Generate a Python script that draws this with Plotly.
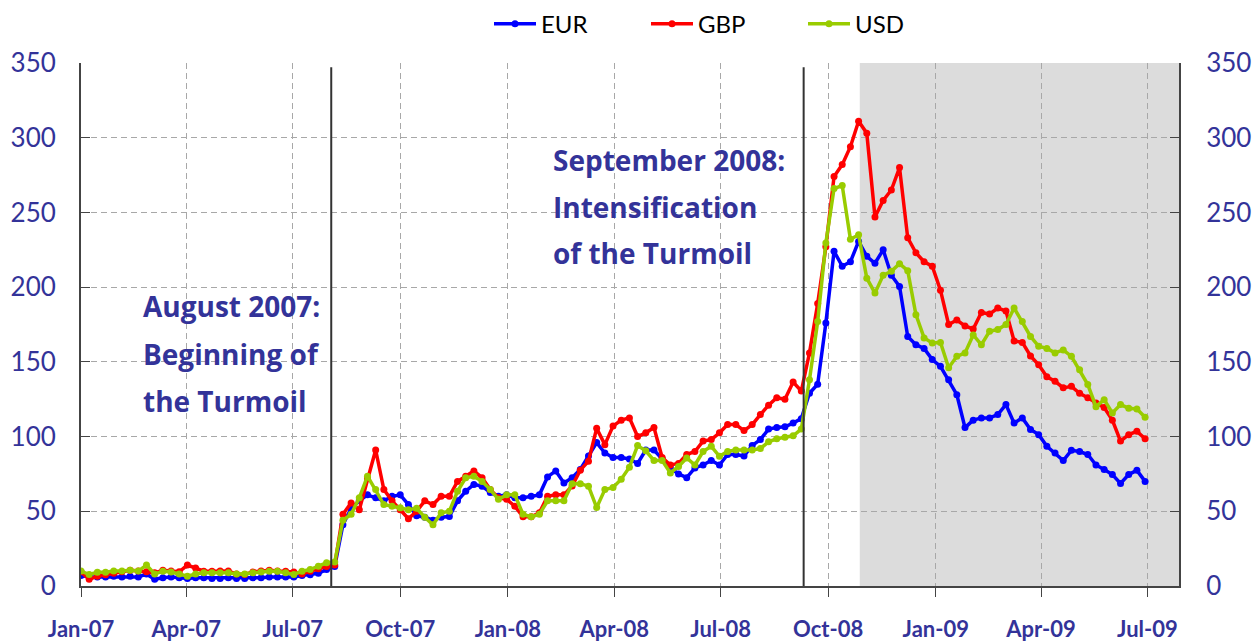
import pandas as pd
import plotly.graph_objects as go

# Weekly observations, Jan-2007 .. end Jun-2009
dates = pd.date_range("2007-01-01", periods=131, freq="7D")

eur = [7, 6, 6, 6, 6.5, 6, 6.5, 6, 8, 4.5,
       5.5, 6, 5.5, 5, 5.5, 5.5, 5, 5, 5.5, 5,
       5, 5.5, 5.5, 6, 6, 6, 6, 7, 7.5, 8.5,
       11, 13,
       41, 52, 57, 61, 59, 57, 60, 61, 54.5, 47,
       46, 44, 46, 46.5, 57, 63.4, 68, 66.8, 62.5, 60,
       61, 59, 59, 60, 61,
       73, 77, 69, 72.4, 78, 87, 96, 89, 86, 86,
       85, 82, 91, 91, 85, 79, 75, 72.5, 79, 81,
       84, 81, 88, 88, 87, 94, 98, 105, 106, 106.5,
       109, 112,
       129, 135, 176, 224, 214, 217, 230.6, 220.6, 216, 225,
       208, 200.5, 167, 161.5, 159, 151.5, 147, 138, 128, 106,
       111, 112.5, 112.5, 114.7, 121.4, 109, 112.5, 104.7, 101.3, 93.5,
       89, 84, 90.8, 90, 88, 81, 78, 74.6, 68.6, 74.6,
       77.4, 70]

gbp = [9.5, 4.5, 6.5, 7.5, 8.5, 9.5, 10.5, 10, 9.5, 8.8,
       10.5, 10, 9.5, 14, 12, 9.9, 9.9, 10, 10, 8,
       7.7, 9.4, 10, 10.6, 10, 9.9, 9.4, 8, 9.9, 11.5,
       13, 14,
       48, 55.6, 51, 72, 91, 64.5, 57, 51, 45, 50,
       57, 54.5, 60, 60, 70, 73.4, 77, 72.4, 64.5, 59,
       58, 53.4, 46.3, 46.3, 49,
       60, 61, 61, 67, 77.5, 83.5, 105.5, 94.6, 107, 111,
       112.5, 100, 102.5, 106, 86, 81, 82, 88, 90, 97,
       98, 102.5, 108, 108, 104, 108, 114.7, 121, 126, 125,
       136.5, 130.5,
       156, 189, 227, 274, 282, 294, 311, 303, 247, 258,
       265, 280, 233, 223, 217, 214, 198, 175, 178, 174,
       172, 183, 182, 186, 184, 164, 163, 154, 148, 140,
       137, 132.6, 133.6, 129, 126, 122.5, 119.4, 111, 97, 101.3,
       103.5, 98.5]

usd = [10, 7.7, 9.2, 9.2, 10, 10, 10.6, 10, 14, 8,
       9.9, 9.4, 8, 6.6, 8, 8.8, 8.8, 8.8, 8.8, 8,
       8, 8.8, 9.4, 9.9, 9.9, 8.8, 7.7, 9.9, 11, 13.3,
       15.5, 16,
       44, 48, 59, 73.5, 64.5, 54.5, 53.4, 52.3, 51, 52,
       46, 41, 49, 50, 63.4, 72.4, 73.4, 70, 64.5, 58,
       61, 61, 48, 46.3, 48,
       57, 57, 57, 68.5, 68.5, 66.8, 52.5, 64.5, 66, 71.5,
       79.5, 94, 90.5, 84, 84, 75.7, 80, 85.7, 81, 90,
       93.5, 86.8, 90, 91, 91, 91, 92, 96.5, 98.5, 99.5,
       100.5, 105,
       138, 177, 229.6, 266, 268, 232, 235, 206, 196, 208,
       210.6, 215.7, 211, 181.6, 166, 162.7, 163, 146, 153.7, 156,
       168, 161.5, 170.4, 171.6, 175, 186, 177, 167, 160.4, 159,
       156, 158, 153.7, 144.8, 134.8, 120, 124.7, 115.8, 121.4, 119,
       118.5, 113]

series_names = ["EUR", "GBP", "USD"]
series_values = [eur, gbp, usd]
series_colors = ["#0000FF", "#FF0000", "#99CC00"]

y_ticks = [0, 50, 100, 150, 200, 250, 300, 350]

event_dates = ["2007-08-03", "2008-09-10"]
shade_start = "2008-10-28"
x_start, x_end = "2007-01-01", "2009-07-28"

NAVY = "#333399"
FONT = "Lato"

fig = go.Figure()
for name, vals, col in zip(series_names, series_values, series_colors):
    fig.add_trace(go.Scatter(
        x=dates, y=vals, name=name, mode="lines+markers",
        line=dict(color=col, width=3.5),
        marker=dict(size=7, color=col),
    ))

# invisible trace to carry the mirrored right-hand axis
fig.add_trace(go.Scatter(
    x=dates, y=eur, yaxis="y2", mode="lines", opacity=0,
    line=dict(width=0), showlegend=False, hoverinfo="skip",
))

shapes = [dict(type="rect", xref="x", yref="paper", x0=shade_start, x1=x_end,
               y0=0, y1=1, fillcolor="#DCDCDC", line=dict(width=0), layer="below")]
for d in event_dates:
    shapes.append(dict(type="line", xref="x", yref="paper", x0=d, x1=d,
                       y0=0, y1=0.992, line=dict(color="#333333", width=2)))

ann_font = dict(family="Open Sans", size=28, color=NAVY, weight="bold")
W, H = 1098.0, 523.5
def px(xp):
    return (xp - 81) / W
def py(yp):
    return (586.5 - yp) / H

annotations = []
for txt, xp, yp in [("August 2007:", 141, 306), ("Beginning of", 141, 354),
                    ("the Turmoil", 141, 401),
                    ("September 2008:", 551, 160), ("Intensification", 551, 207),
                    ("of the Turmoil", 551, 253)]:
    annotations.append(dict(text=txt, xref="paper", yref="paper", x=px(xp), y=py(yp),
                            xanchor="left", yanchor="middle", showarrow=False,
                            font=ann_font))

grid = dict(showgrid=True, gridcolor="#A8A8A8", gridwidth=1, griddash="6px,4px")

fig.update_layout(
    width=1259, height=641,
    margin=dict(l=81, r=80, t=63, b=55, autoexpand=False),
    paper_bgcolor="white", plot_bgcolor="white",
    font=dict(family=FONT),
    shapes=shapes, annotations=annotations,
    showlegend=True,
    legend=dict(orientation="h", x=px(489), xanchor="left", y=py(24), yanchor="middle",
                font=dict(family=FONT, size=24, color="black"),
                itemwidth=42,
                entrywidth=100, entrywidthmode="pixels", bgcolor="rgba(0,0,0,0)"),
    xaxis=dict(type="date", range=[x_start, x_end], tick0="2007-01-01", dtick="M3",
               tickformat="%b-%y", ticks="outside", ticklen=9, tickcolor="#444444",
               showline=True, linecolor="#444444", linewidth=2, zeroline=False,
               automargin=False,
               tickfont=dict(family=FONT, size=22, color=NAVY, weight="bold"),
               ticklabelstandoff=14, **grid),
    yaxis=dict(range=[0, 350], tickvals=y_ticks, ticks="inside", ticklen=9,
               tickcolor="#444444", showline=True, linecolor="#444444", linewidth=2,
               zeroline=False, automargin=False,
               tickfont=dict(family=FONT, size=26, color=NAVY),
               ticklabelstandoff=18, **grid),
    yaxis2=dict(range=[0, 350], tickvals=y_ticks, overlaying="y", side="right",
                ticks="inside", ticklen=9, tickcolor="#444444", showline=True,
                linecolor="#444444", linewidth=2, showgrid=False, zeroline=False,
                automargin=False,
                tickfont=dict(family=FONT, size=26, color=NAVY),
                ticklabelstandoff=20),
)

fig.write_html("out.html", config={"displayModeBar": False},
               post_script="document.body.style.margin='0';document.body.style.overflow='hidden';")
